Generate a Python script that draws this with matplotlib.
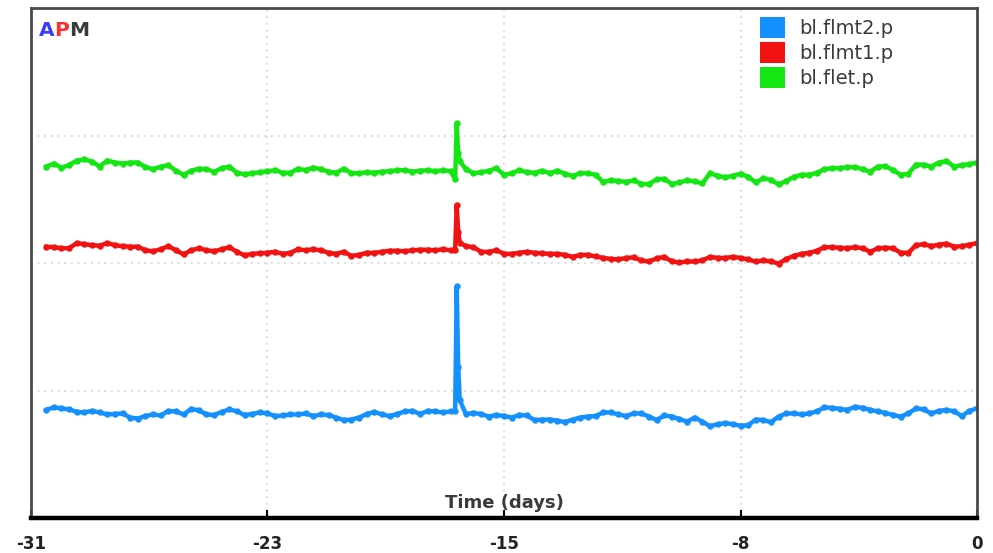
"""Trend plot of three bottom-line pressure channels over the last 31 days."""

import matplotlib

matplotlib.use("Agg")
import matplotlib.pyplot as plt
import numpy as np
from matplotlib.patches import Patch

plt.rcParams["font.family"] = ["DejaVu Sans"]

BLUE = "#1490FF"
RED = "#F21212"
GREEN = "#14E614"
FRAME = "#4a4a4a"
GRID = "#cfcfcf"
TEXT = "#3a3a3a"

# Regular samples every 6 hours, starting 30.5 days back.
START_DAY = -30.5
STEP_DAYS = 0.25

flmt2_p = [
    21.2, 21.7, 21.5, 21.3, 20.8, 20.7, 21.0, 20.7, 20.3, 20.4,
    20.5, 19.7, 19.5, 20.0, 20.3, 20.1, 21.0, 20.9, 20.3, 21.4,
    21.1, 20.3, 20.2, 20.8, 21.3, 20.9, 20.2, 20.4, 20.7, 20.5,
    20.0, 20.1, 20.3, 20.3, 20.5, 20.0, 20.3, 20.2, 19.7, 19.2,
    19.3, 19.7, 20.4, 20.8, 20.3, 20.0, 20.4, 20.9, 21.0, 20.4,
    21.0, 20.9, 20.7, 20.9, 29.7, 20.4, 20.6, 20.4, 19.9, 20.2,
    20.0, 19.7, 20.2, 20.1, 19.2, 19.3, 19.3, 19.1, 18.8, 19.3,
    19.7, 19.9, 20.0, 20.7, 20.7, 20.3, 20.0, 20.5, 20.5, 19.9,
    19.2, 20.1, 19.9, 19.4, 18.9, 19.7, 18.9, 18.0, 18.4, 18.6,
    18.4, 18.1, 18.2, 19.3, 19.2, 18.8, 19.9, 20.5, 20.5, 20.3,
    20.5, 20.9, 21.7, 21.6, 21.4, 21.2, 21.8, 21.6, 21.2, 20.9,
    20.6, 20.2, 19.9, 20.5, 21.5, 21.3, 20.5, 21.0, 21.2, 20.9,
    20.0, 21.0, 21.5,
]

flmt1_p = [
    53.2, 53.1, 52.9, 52.9, 53.9, 53.7, 53.5, 53.4, 53.9, 53.5,
    53.3, 53.2, 53.2, 52.5, 52.3, 52.7, 53.3, 52.5, 51.7, 52.5,
    52.9, 52.5, 52.3, 52.7, 53.1, 52.2, 51.5, 51.8, 51.9, 52.0,
    52.2, 51.8, 52.0, 52.7, 52.5, 52.7, 52.5, 52.0, 51.8, 52.2,
    51.4, 51.6, 52.0, 52.0, 52.2, 52.4, 52.4, 52.3, 52.5, 52.6,
    52.6, 52.5, 52.7, 52.5, 56.0, 53.3, 53.1, 52.2, 52.2, 52.5,
    51.8, 51.8, 52.0, 52.2, 52.0, 51.9, 51.8, 51.8, 51.6, 51.2,
    51.6, 51.6, 51.3, 51.0, 50.8, 50.7, 51.0, 51.1, 50.5, 50.3,
    50.9, 51.2, 50.3, 50.1, 50.3, 50.3, 50.5, 51.2, 51.0, 51.0,
    51.2, 51.0, 50.7, 50.3, 50.5, 50.3, 49.9, 50.8, 51.4, 51.8,
    52.0, 52.4, 53.1, 53.1, 53.0, 52.9, 53.1, 52.9, 52.2, 52.9,
    53.0, 52.9, 52.0, 52.0, 53.5, 53.7, 53.3, 53.6, 53.8, 53.2,
    53.3, 53.6, 53.9,
]

flet_p = [
    68.9, 69.5, 68.7, 69.2, 70.1, 70.3, 69.9, 68.9, 70.1, 69.7,
    69.5, 69.7, 69.7, 68.8, 68.4, 68.9, 69.2, 68.1, 67.3, 68.1,
    68.5, 68.4, 67.9, 68.6, 68.9, 67.7, 67.4, 67.6, 67.8, 68.0,
    68.2, 67.7, 67.7, 68.5, 68.2, 68.7, 68.4, 67.9, 67.7, 68.5,
    67.6, 67.6, 67.8, 67.7, 67.9, 68.0, 68.2, 68.2, 67.9, 68.1,
    68.2, 68.0, 68.2, 68.0, 71.5, 68.4, 67.6, 67.8, 68.1, 68.6,
    67.3, 67.6, 68.2, 67.8, 67.7, 68.1, 67.6, 68.1, 67.5, 67.1,
    67.6, 67.6, 67.3, 65.9, 66.2, 66.1, 65.9, 66.2, 65.5, 65.5,
    66.4, 66.5, 65.5, 65.8, 66.2, 66.0, 65.6, 67.6, 67.1, 66.8,
    67.1, 67.5, 66.9, 65.8, 66.6, 66.3, 65.4, 66.1, 66.9, 67.3,
    67.3, 67.7, 68.4, 68.6, 68.6, 68.8, 68.8, 68.4, 67.9, 68.9,
    69.0, 68.2, 67.3, 67.5, 69.3, 69.3, 68.9, 69.7, 70.0, 68.9,
    69.2, 69.4, 69.7,
]

# Extra fast-logged samples around the pressure event near day -17
event_days = [-17.10, -17.05, -16.95]
flmt2_event = [20.9, 45.4, 23.1]
flmt1_event = [52.6, 61.4, 54.0]
flet_event = [66.4, 77.4, 70.0]

series_names = ["bl.flmt2.p", "bl.flmt1.p", "bl.flet.p"]
series_colors = [BLUE, RED, GREEN]

x_ticks = np.linspace(-31, 0, 5)
x_tick_labels = ["-31", "-23", "-15", "-8", "0"]


def merged(regular, event):
    days = np.concatenate([START_DAY + STEP_DAYS * np.arange(len(regular)),
                           event_days])
    vals = np.concatenate([regular, event])
    order = np.argsort(days)
    return days[order], vals[order]


fig = plt.figure(figsize=(9.93, 5.53), dpi=100)
ax = fig.add_axes([0.0312, 0.0633, 0.9527, 0.9222])

for regular, event, color in zip([flmt2_p, flmt1_p, flet_p],
                                 [flmt2_event, flmt1_event, flet_event],
                                 series_colors):
    days, vals = merged(regular, event)
    ax.plot(days, vals, color=color, linewidth=3.2, marker="o",
            markersize=4.6, markeredgewidth=0, solid_joinstyle="round")

ax.set_xlim(-31, 0)
ax.set_ylim(0, 100)
ax.set_xticks(x_ticks)
ax.set_xticklabels(x_tick_labels)
ax.set_yticks([25, 50, 75])
ax.set_yticklabels([])
ax.tick_params(axis="y", length=0)
ax.tick_params(axis="x", direction="in", length=6, width=1.5, color="black",
               pad=12.5, labelsize=12, labelcolor="#222222")
for lbl in ax.get_xticklabels():
    lbl.set_fontweight("bold")
ax.grid(True, linestyle=(0, (1, 3)), color=GRID, linewidth=1.2)
ax.set_axisbelow(True)

for side in ("left", "top", "right"):
    ax.spines[side].set_color(FRAME)
    ax.spines[side].set_linewidth(2.0)
ax.spines["bottom"].set_color("black")
ax.spines["bottom"].set_linewidth(3.2)

ax.text(0.5, 0.029, "Time (days)", transform=ax.transAxes, ha="center",
        va="center", fontsize=13, fontweight="bold", color=TEXT)

# APM badge, one colour per letter
a_txt = ax.text(0.008, 0.955, "A", transform=ax.transAxes, ha="left",
                va="center", fontsize=14.5, fontweight="bold", color="#3b3bff")
p_txt = ax.annotate("P", xy=(1, 0.5), xycoords=a_txt, ha="left", va="center",
                    fontsize=14.5, fontweight="bold", color="#ff2e2e")
ax.annotate("M", xy=(1, 0.5), xycoords=p_txt, ha="left", va="center",
            fontsize=14.5, fontweight="bold", color="#3a3a3a")

handles = [Patch(facecolor=c, edgecolor="none") for c in series_colors]
leg = fig.legend(handles, series_names, loc="upper left",
                 bbox_to_anchor=(760 / 993, 1 - 17 / 553), frameon=False,
                 fontsize=14, handlelength=1.29, handleheight=1.29,
                 handletextpad=0.75, labelspacing=0.2, borderpad=0,
                 borderaxespad=0)
for t in leg.get_texts():
    t.set_color(TEXT)

fig.savefig("out.png", dpi=100, facecolor="white")
